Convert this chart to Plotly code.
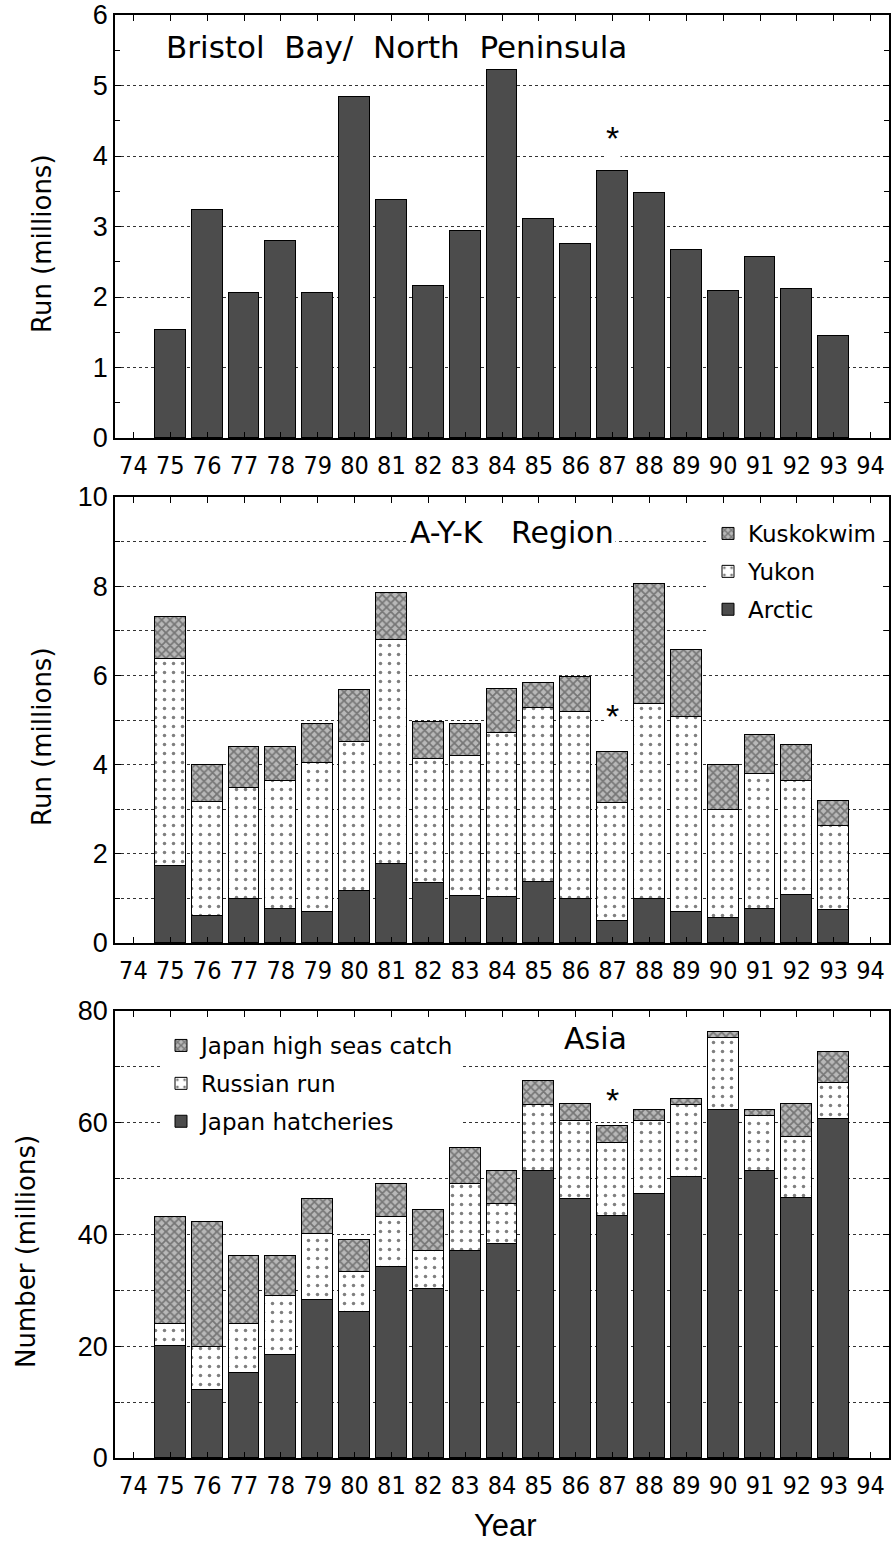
import plotly.graph_objects as go

# ---------------- data ----------------
years = [75, 76, 77, 78, 79, 80, 81, 82, 83, 84, 85, 86, 87, 88, 89, 90, 91, 92, 93]
tick_vals = list(range(74, 95))
tick_text = [str(v) for v in tick_vals]

bristol = [1.53, 3.23, 2.05, 2.80, 2.06, 4.83, 3.37, 2.15, 2.94, 5.22,
           3.11, 2.75, 3.79, 3.47, 2.66, 2.09, 2.57, 2.12, 1.44]

arctic = [1.72, 0.61, 0.99, 0.77, 0.70, 1.17, 1.77, 1.35, 1.06, 1.03,
          1.37, 0.99, 0.50, 0.99, 0.70, 0.56, 0.77, 1.08, 0.75]
yukon = [4.65, 2.55, 2.48, 2.87, 3.33, 3.33, 5.03, 2.78, 3.14, 3.68,
         3.90, 4.19, 2.63, 4.37, 4.36, 2.43, 3.01, 2.56, 1.87]
kuskokwim = [0.93, 0.83, 0.92, 0.75, 0.87, 1.17, 1.04, 0.82, 0.72, 0.99,
             0.57, 0.79, 1.15, 2.70, 1.52, 1.00, 0.89, 0.79, 0.57]

japan_hatch = [20.0, 12.1, 15.3, 18.4, 28.3, 26.2, 34.1, 30.3, 37.1, 38.3,
               51.3, 46.4, 43.4, 47.2, 50.3, 62.2, 51.3, 46.6, 60.6]
russian_run = [3.9, 7.8, 8.7, 10.6, 11.8, 7.1, 9.0, 6.8, 12.0, 7.1,
               11.8, 13.9, 12.9, 13.1, 12.8, 12.9, 9.9, 10.9, 6.5]
japan_hs = [19.2, 22.3, 12.1, 7.1, 6.3, 5.8, 6.0, 7.2, 6.3, 5.9,
            4.3, 3.0, 3.2, 1.9, 1.2, 1.2, 1.0, 5.8, 5.5]

star_year = 87
star_vals = [4.25, 5.1, 64.0]

# ---------------- styles ----------------
W, H = 891, 1545
DARK = "#4c4c4c"
FONT = "Liberation Sans, Arial, Helvetica, sans-serif"
WIDE = "DejaVu Sans, Verdana, sans-serif"
NARROW = "Liberation Sans Narrow, DejaVu Sans Condensed, Arial Narrow, sans-serif"
BAR_W = 0.84
line = dict(color="black", width=1)
hatch = dict(shape="x", bgcolor="#b8b8b8", fgcolor="#333333", size=6, solidity=0.5)
dots = dict(shape=".", bgcolor="white", fgcolor="black", size=9, solidity=0.12)

fig = go.Figure()

# Panel 1
fig.add_trace(go.Bar(x=years, y=bristol, width=BAR_W, marker=dict(color=DARK, line=line),
                     showlegend=False, xaxis="x", yaxis="y", name="Bristol Bay"))

# Panel 2
fig.add_trace(go.Bar(x=years, y=arctic, width=BAR_W, name="Arctic", legend="legend2",
                     legendgroup="a", legendrank=3,
                     marker=dict(color=DARK, line=line), xaxis="x2", yaxis="y2"))
fig.add_trace(go.Bar(x=years, y=yukon, width=BAR_W, name="Yukon", legend="legend2",
                     legendgroup="b", legendrank=2,
                     marker=dict(color="white", line=line, pattern=dots), xaxis="x2", yaxis="y2"))
fig.add_trace(go.Bar(x=years, y=kuskokwim, width=BAR_W, name="Kuskokwim", legend="legend2",
                     legendgroup="c", legendrank=1,
                     marker=dict(color="#b8b8b8", line=line, pattern=hatch), xaxis="x2", yaxis="y2"))

# Panel 3
fig.add_trace(go.Bar(x=years, y=japan_hatch, width=BAR_W, name="Japan hatcheries", legend="legend3",
                     legendgroup="d", legendrank=3,
                     marker=dict(color=DARK, line=line), xaxis="x3", yaxis="y3"))
fig.add_trace(go.Bar(x=years, y=russian_run, width=BAR_W, name="Russian run", legend="legend3",
                     legendgroup="e", legendrank=2,
                     marker=dict(color="white", line=line, pattern=dots), xaxis="x3", yaxis="y3"))
fig.add_trace(go.Bar(x=years, y=japan_hs, width=BAR_W, name="Japan high seas catch", legend="legend3",
                     legendgroup="f", legendrank=1,
                     marker=dict(color="#b8b8b8", line=line, pattern=hatch), xaxis="x3", yaxis="y3"))


def px_dom(top, bottom):
    return [1 - bottom / H, 1 - top / H]


def xax(anchor):
    return dict(anchor=anchor, domain=[0, 1], range=[73.5, 94.5], tickmode="array",
                tickvals=tick_vals, ticktext=tick_text, ticks="inside", ticklen=6,
                tickcolor="black", showline=True, linecolor="black", linewidth=1.5,
                mirror="ticks", showgrid=False, zeroline=False, automargin=False,
                tickfont=dict(family=NARROW, size=25, color="black"),
                ticklabelstandoff=4)


def yax(anchor, dom, rng, dtick, minor_dtick, minor_grid):
    return dict(anchor=anchor, domain=dom, range=rng, dtick=dtick, tick0=0,
                ticks="inside", ticklen=6, tickcolor="black", showline=True,
                linecolor="black", linewidth=1.5, mirror="ticks", zeroline=False,
                automargin=False,
                showgrid=True, gridcolor="#333333", griddash="dot", gridwidth=1,
                tickfont=dict(family=FONT, size=27, color="black"),
                minor=dict(dtick=minor_dtick, tick0=0, ticks="inside", ticklen=5,
                           tickcolor="black", showgrid=minor_grid,
                           gridcolor="#333333", griddash="dot", gridwidth=1))


fig.update_layout(
    width=W, height=H, barmode="stack", bargap=0,
    margin=dict(l=115, r=2, t=0, b=0, autoexpand=False),
    paper_bgcolor="white", plot_bgcolor="white",
    font=dict(family=FONT, color="black"),
    xaxis=xax("y"), yaxis=yax("x", px_dom(15, 438), [0, 6], 1, 0.5, False),
    xaxis2=xax("y2"), yaxis2=yax("x2", px_dom(497, 943), [0, 10], 2, 1, True),
    xaxis3=xax("y3"), yaxis3=yax("x3", px_dom(1011, 1458), [0, 80], 20, 10, True),
    legend2=dict(x=(708 - 115) / 774, y=1 - 512 / H, xanchor="left", yanchor="top",
                 bgcolor="white", font=dict(family=WIDE, size=23, color="black"),
                 tracegroupgap=5, traceorder="grouped", borderwidth=0),
    legend3=dict(x=(161 - 115) / 774, y=1 - 1024 / H, xanchor="left", yanchor="top",
                 bgcolor="white", font=dict(family=WIDE, size=23, color="black"),
                 tracegroupgap=5, traceorder="grouped", borderwidth=0),
)

# Panel titles
fig.add_annotation(x=74.84, y=5.55, xref="x", yref="y", xanchor="left", yanchor="middle",
                   showarrow=False, text="Bristol  Bay/  North  Peninsula",
                   font=dict(size=31, family=WIDE))
fig.add_annotation(x=81.45, y=9.2, xref="x2", yref="y2", xanchor="left", yanchor="middle",
                   showarrow=False, text="A-Y-K   Region", bgcolor="white",
                   font=dict(size=30, family=WIDE))
fig.add_annotation(x=86.55, y=75.1, xref="x3", yref="y3", xanchor="center", yanchor="middle",
                   showarrow=False, text="Asia", font=dict(size=30, family=WIDE))

# Asterisks
for i, (xr, yr) in enumerate([("x", "y"), ("x2", "y2"), ("x3", "y3")]):
    fig.add_annotation(x=star_year, y=star_vals[i], xref=xr, yref=yr, showarrow=False,
                       xanchor="center", yanchor="middle",
                       text="*", bgcolor="white" if i < 2 else None,
                       font=dict(size=34, family=FONT))

# Axis titles
axis_titles = [("Run (millions)", 42, 244), ("Run (millions)", 42, 737),
               ("Number (millions)", 26, 1252)]
for txt, px_x, px_y in axis_titles:
    fig.add_annotation(x=(px_x - 115) / 774, y=1 - px_y / H, xref="paper", yref="paper",
                       xanchor="center", yanchor="middle", textangle=-90,
                       showarrow=False, text=txt, font=dict(size=26, family=WIDE))
fig.add_annotation(x=(505 - 115) / 774, y=1 - 1525 / H, xref="paper", yref="paper",
                   xanchor="center", yanchor="middle",
                   showarrow=False, text="Year", font=dict(size=31, family=FONT))

fig.write_html("out.html")
